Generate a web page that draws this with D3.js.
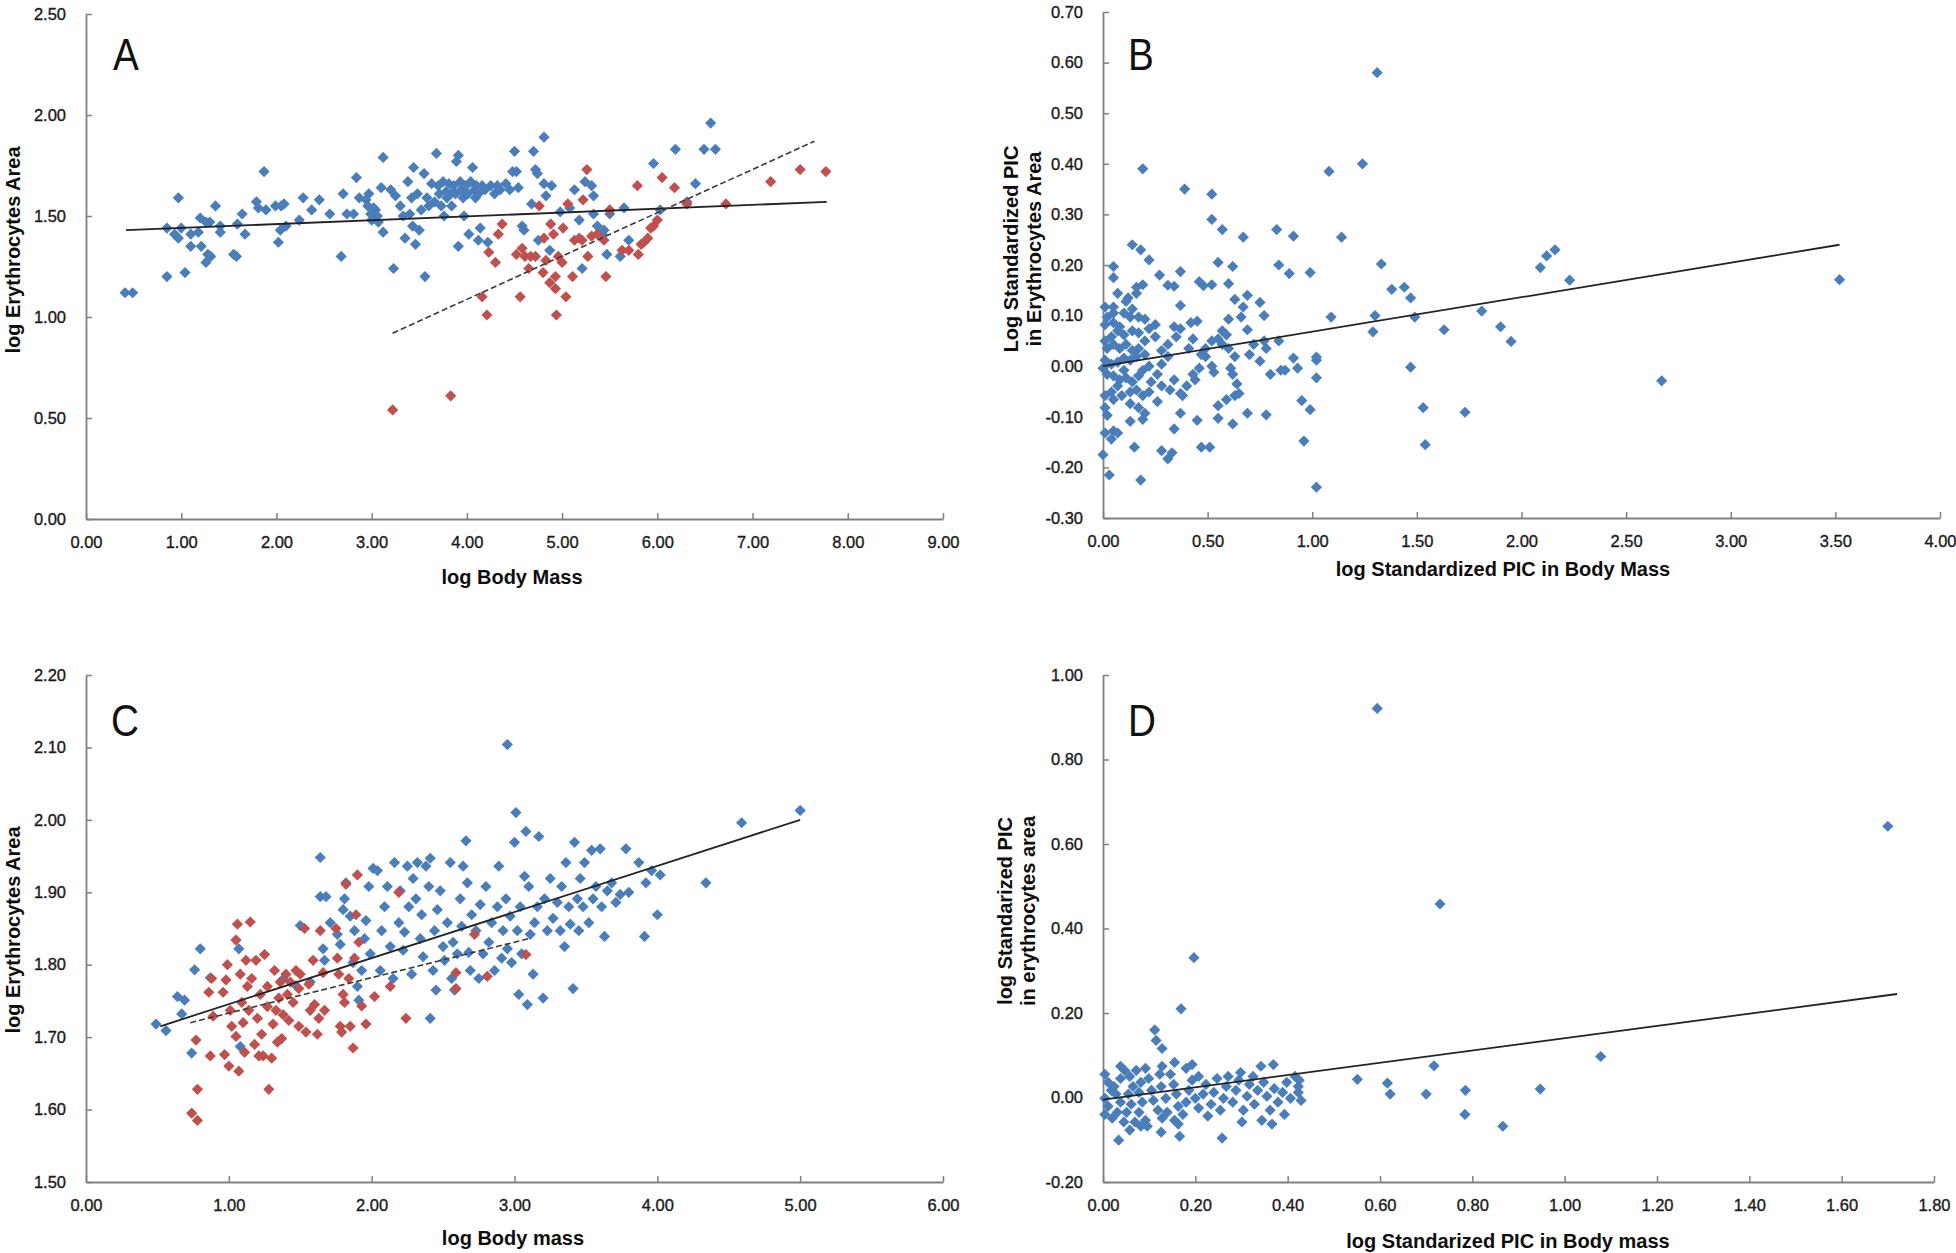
<!DOCTYPE html>
<html>
<head>
<meta charset="utf-8">
<script src="https://cdn.jsdelivr.net/npm/d3@7/dist/d3.min.js"></script>
<style>
  html, body { margin: 0; padding: 0; background: #fff; }
  svg { display: block; }
  .tick text { font-family: "Liberation Sans", Arial, sans-serif; font-size: 16.5px; fill: #1a1a1a; stroke: #1a1a1a; stroke-width: 0.35px; }
  .ttl { font-family: "Liberation Sans", Arial, sans-serif; font-weight: bold; font-size: 20px; fill: #0d0d0d; }
  .letter { font-family: "Liberation Sans", Arial, sans-serif; font-size: 45px; fill: #111; }
</style>
</head>
<body>
<svg id="chart" width="1956" height="1253"></svg>
<script>
// ---------------- DATA ----------------
// Panel A: log Body Mass vs log Erythrocytes Area
const panelA_xTicks = [0,1,2,3,4,5,6,7,8,9];
const panelA_yTicks = [0,0.5,1,1.5,2,2.5];
const panelA_blue = [
[0.41,1.12],[0.49,1.12],[0.85,1.44],[0.85,1.20],[0.97,1.59],[0.93,1.41],[1.0,1.44],[1.04,1.22],[0.97,1.39],[1.10,1.41],
[1.10,1.35],[1.2,1.49],[1.21,1.35],[1.18,1.42],[1.26,1.47],[1.28,1.31],[1.26,1.27],[1.31,1.30],[1.30,1.47],[1.36,1.55],
[1.41,1.42],[1.41,1.45],[1.55,1.31],[1.58,1.30],[1.59,1.46],[1.64,1.51],[1.67,1.41],[1.79,1.57],[1.81,1.54],[1.87,1.72],
[1.89,1.53],[1.99,1.55],[2.02,1.37],[2.04,1.43],[2.05,1.55],[2.08,1.56],[2.10,1.45],[2.24,1.48],[2.28,1.59],[2.37,1.53],
[2.45,1.58],[2.56,1.51],[2.68,1.30],[2.70,1.61],[2.74,1.51],[2.81,1.51],[2.84,1.69],[2.87,1.59],[2.94,1.58],[2.96,1.55],
[2.97,1.61],[2.99,1.51],[3.0,1.48],[3.02,1.54],[3.04,1.53],[3.06,1.50],[3.07,1.47],[3.10,1.64],[3.12,1.79],[3.12,1.42],
[3.20,1.63],[3.23,1.24],[3.25,1.60],[3.30,1.55],[3.33,1.50],[3.35,1.39],[3.38,1.67],[3.40,1.51],[3.42,1.59],[3.43,1.45],
[3.44,1.74],[3.46,1.36],[3.48,1.61],[3.50,1.43],[3.52,1.53],[3.55,1.71],[3.56,1.20],[3.58,1.59],[3.60,1.55],[3.63,1.66],
[3.66,1.57],[3.68,1.81],[3.70,1.65],[3.71,1.61],[3.73,1.55],[3.75,1.67],[3.76,1.50],[3.78,1.62],[3.79,1.59],[3.81,1.66],
[3.83,1.61],[3.84,1.55],[3.86,1.65],[3.88,1.61],[3.89,1.77],[3.91,1.35],[3.91,1.80],[3.93,1.67],[3.94,1.63],[3.96,1.59],
[3.97,1.50],[3.99,1.65],[4.01,1.61],[4.02,1.41],[4.04,1.67],[4.06,1.74],[4.08,1.63],[4.09,1.59],[4.10,1.65],[4.12,1.61],
[4.16,1.65],[4.19,1.63],[4.12,1.38],[4.14,1.44],[4.22,1.37],[4.25,1.65],[4.29,1.61],[4.32,1.65],[4.35,1.63],[4.41,1.66],
[4.45,1.63],[4.48,1.72],[4.50,1.82],[4.52,1.72],[4.54,1.64],[4.58,1.45],[4.60,1.43],[4.68,1.56],[4.70,1.82],[4.72,1.73],
[4.74,1.71],[4.75,1.38],[4.81,1.89],[4.81,1.66],[4.83,1.60],[4.87,1.33],[4.89,1.65],[4.98,1.52],[5.08,1.54],[5.13,1.63],
[5.18,1.48],[5.21,1.24],[5.24,1.67],[5.31,1.65],[5.33,1.60],[5.33,1.51],[5.37,1.45],[5.42,1.41],[5.44,1.43],[5.47,1.31],
[5.50,1.51],[5.65,1.54],[5.61,1.30],[5.70,1.38],[5.96,1.76],[6.03,1.53],[6.19,1.83],[6.31,1.57],[6.40,1.66],[6.49,1.83],
[6.56,1.96],[6.61,1.83]
];
const panelA_red = [
[3.22,0.54],[3.83,0.61],[4.16,1.10],[4.21,1.01],[4.23,1.32],[4.30,1.27],[4.33,1.41],[4.37,1.46],[4.52,1.31],[4.56,1.10],
[4.58,1.34],[4.61,1.30],[4.65,1.24],[4.67,1.30],[4.72,1.30],[4.76,1.55],[4.80,1.22],[4.81,1.39],[4.83,1.28],[4.87,1.17],
[4.88,1.46],[4.91,1.41],[4.93,1.20],[4.93,1.14],[4.94,1.01],[4.96,1.30],[5.00,1.27],[5.01,1.44],[5.04,1.10],[5.06,1.56],
[5.11,1.20],[5.13,1.38],[5.18,1.39],[5.21,1.38],[5.22,1.58],[5.26,1.73],[5.27,1.30],[5.31,1.40],[5.37,1.41],[5.44,1.38],
[5.46,1.20],[5.50,1.53],[5.63,1.33],[5.70,1.33],[5.79,1.65],[5.80,1.31],[5.83,1.36],[5.86,1.37],[5.90,1.39],[5.93,1.44],
[5.96,1.45],[6.00,1.48],[6.05,1.69],[6.18,1.64],[6.31,1.56],[6.72,1.56],[7.19,1.67],[7.50,1.73],[7.77,1.72]
];
const panelA_fitAll = [[0.42,1.43],[7.78,1.57]];
const panelA_fitRed = [[3.22,0.92],[7.65,1.87]];

// Panel B: log Standardized PIC in Body Mass vs log Standardized PIC in Erythrocytes Area
const panelB_xTicks = [0,0.5,1,1.5,2,2.5,3,3.5,4];
const panelB_yTicks = [-0.3,-0.2,-0.1,0,0.1,0.2,0.3,0.4,0.5,0.6,0.7];
const panelB_points = [
[1.31,0.58],[0.19,0.39],[1.24,0.40],[1.08,0.385],[0.39,0.35],[0.52,0.34],[0.52,0.29],[0.57,0.27],[0.83,0.27],[0.67,0.255],
[0.91,0.257],[1.14,0.255],[0.14,0.24],[0.18,0.23],[0.22,0.21],[0.05,0.197],[0.05,0.175],[0.27,0.18],[0.37,0.187],[0.55,0.205],
[0.62,0.197],[0.84,0.20],[0.89,0.183],[0.99,0.185],[1.33,0.202],[2.09,0.195],[2.12,0.218],[2.16,0.23],[2.23,0.17],[3.52,0.171],
[0.31,0.16],[0.34,0.158],[0.46,0.167],[0.48,0.159],[0.52,0.161],[0.60,0.163],[0.16,0.156],[0.19,0.161],[1.38,0.152],[1.44,0.156],
[1.47,0.135],[1.30,0.10],[1.29,0.068],[1.49,0.097],[1.63,0.072],[1.81,0.109],[1.90,0.078],[1.95,0.049],[1.09,0.097],[1.02,0.018],
[1.02,0.012],[1.02,-0.023],[1.47,-0.002],[2.67,-0.029],[1.53,-0.082],[1.73,-0.091],[1.54,-0.155],[0.95,-0.068],[0.99,-0.086],[0.96,-0.148],
[1.02,-0.239],[0.03,-0.215],[0.00,-0.175],[0.18,-0.225],[0.28,-0.167],[0.31,-0.183],[0.33,-0.171],[0.47,-0.16],[0.51,-0.16],[0.15,-0.16],
[0.01,-0.132],[0.04,-0.144],[0.05,-0.128],[0.07,-0.132],[0.13,-0.109],[0.19,-0.105],[0.34,-0.124],[0.37,-0.093],[0.45,-0.107],[0.55,-0.103],
[0.62,-0.114],[0.69,-0.093],[0.78,-0.096],[0.17,-0.082],[0.20,-0.093],[0.55,-0.078],[0.59,-0.066],[0.63,-0.058],[0.65,-0.054],
[0.63,0.132],[0.69,0.14],[0.75,0.126],[0.77,0.10],[0.67,0.117],[0.66,0.097],[0.60,0.093],[0.69,0.072],[0.77,0.05],[0.78,0.035],
[0.72,0.043],[0.70,0.023],[0.75,0.01],[0.80,-0.016],[0.85,-0.008],[0.87,-0.008],[0.91,0.016],[0.93,-0.004],[0.84,0.05],[0.57,0.07],
[0.59,0.062],[0.55,0.054],[0.52,0.05],[0.57,0.043],[0.60,0.035],[0.63,0.019],[0.61,-0.004],[0.64,-0.035],[0.62,-0.016],[0.49,0.019],
[0.46,-0.004],[0.43,-0.016],[0.44,-0.027],[0.40,-0.039],[0.37,-0.054],[0.38,-0.058],[0.42,0.086],[0.45,0.089],[0.37,0.074],[0.34,0.078],
[0.37,0.12],[0.35,0.058],[0.31,0.043],[0.28,0.031],[0.31,0.019],[0.28,0.004],[0.26,-0.016],[0.23,-0.031],[0.22,-0.051],[0.26,-0.07],
[0.28,-0.039],[0.32,-0.047],[0.34,-0.027],[0.49,0.035],[0.47,0.023],[0.52,0.0],[0.53,-0.012],[0.41,0.035],[0.43,0.054],[0.22,0.074],
[0.20,0.093],[0.17,0.097],[0.14,0.113],[0.11,0.128],[0.12,0.135],[0.25,0.082],[0.25,0.058],[0.20,0.05],[0.17,0.066],[0.14,0.07],
[0.10,0.062],[0.07,0.07],[0.04,0.058],[0.01,0.05],[0.02,0.035],[0.05,0.043],[0.08,0.035],[0.11,0.043],[0.14,0.031],[0.17,0.035],
[0.20,0.023],[0.16,0.019],[0.13,0.012],[0.10,0.016],[0.07,0.008],[0.04,0.004],[0.01,0.012],[0.00,-0.004],[0.02,-0.016],[0.05,-0.019],
[0.08,-0.027],[0.11,-0.023],[0.14,-0.031],[0.17,-0.019],[0.19,-0.008],[0.22,0.0],[0.10,-0.008],[0.07,-0.039],[0.04,-0.051],[0.01,-0.058],
[0.05,-0.066],[0.09,-0.058],[0.13,-0.051],[0.16,-0.047],[0.19,-0.058],[0.13,-0.074],[0.01,-0.082],[0.02,-0.097],[0.01,0.117],[0.02,0.097],
[0.05,0.105],[0.01,0.082],[0.05,0.086],[0.08,0.078],[0.05,0.117],[0.10,0.105],[0.13,0.097],[0.07,0.144],[0.16,0.144]
];
const panelB_fit = [[0.0,0.0],[3.52,0.24]];

// Panel C: log Body mass vs log Erythrocytes Area
const panelC_xTicks = [0,1,2,3,4,5,6];
const panelC_yTicks = [1.5,1.6,1.7,1.8,1.9,2.0,2.1,2.2];
const panelC_blue = [
[0.49,1.718],[0.56,1.709],[0.64,1.756],[0.69,1.751],[0.67,1.732],[0.74,1.678],[0.76,1.793],[0.80,1.822],[0.87,1.782],[1.07,1.822],
[1.08,1.687],[1.38,1.780],[1.47,1.771],[1.50,1.854],[1.57,1.776],[1.64,1.948],[1.64,1.894],[1.68,1.894],[1.66,1.822],[1.67,1.806],
[1.71,1.858],[1.76,1.842],[1.78,1.828],[1.80,1.876],[1.81,1.891],[1.82,1.913],[1.85,1.867],[1.87,1.803],[1.88,1.847],[1.90,1.770],
[1.91,1.751],[1.93,1.792],[1.95,1.836],[1.96,1.861],[1.98,1.908],[1.99,1.815],[2.01,1.933],[2.04,1.930],[2.06,1.792],[2.07,1.847],
[2.09,1.880],[2.11,1.908],[2.13,1.825],[2.15,1.781],[2.16,1.941],[2.19,1.858],[2.20,1.902],[2.22,1.820],[2.23,1.845],[2.25,1.936],
[2.26,1.880],[2.28,1.787],[2.29,1.919],[2.31,1.891],[2.32,1.941],[2.34,1.836],[2.35,1.869],[2.36,1.811],[2.38,1.936],[2.40,1.908],
[2.41,1.947],[2.43,1.792],[2.44,1.847],[2.45,1.765],[2.41,1.726],[2.46,1.876],[2.48,1.902],[2.50,1.825],[2.51,1.806],[2.53,1.858],
[2.55,1.941],[2.56,1.781],[2.57,1.831],[2.58,1.765],[2.60,1.815],[2.62,1.891],[2.63,1.853],[2.64,1.936],[2.66,1.971],[2.67,1.913],
[2.68,1.817],[2.69,1.792],[2.70,1.869],[2.73,1.847],[2.75,1.781],[2.76,1.883],[2.78,1.815],[2.80,1.908],[2.82,1.831],[2.84,1.858],
[2.86,1.792],[2.88,1.880],[2.89,1.936],[2.91,1.809],[2.92,1.847],[2.94,1.891],[2.95,1.822],[2.95,2.104],[2.97,1.867],[2.98,1.803],
[3.00,1.969],[3.01,2.010],[3.02,1.847],[3.03,1.759],[3.04,1.880],[3.05,1.815],[3.07,1.922],[3.08,1.984],[3.09,1.745],[3.10,1.908],
[3.11,1.842],[3.13,1.787],[3.14,1.858],[3.16,1.880],[3.17,1.977],[3.20,1.754],[3.21,1.891],[3.23,1.847],[3.25,1.919],[3.27,1.864],
[3.30,1.886],[3.32,1.847],[3.33,1.908],[3.35,1.825],[3.36,1.941],[3.38,1.880],[3.39,1.856],[3.41,1.767],[3.42,1.969],[3.44,1.891],
[3.45,1.847],[3.46,1.919],[3.48,1.880],[3.49,1.941],[3.52,1.858],[3.54,1.958],[3.55,1.891],[3.57,1.908],[3.60,1.960],[3.61,1.880],
[3.63,1.839],[3.65,1.902],[3.68,1.913],[3.71,1.886],[3.74,1.897],[3.78,1.960],[3.80,1.900],[3.87,1.941],[3.91,1.839],[3.92,1.913],
[3.96,1.930],[4.00,1.869],[4.02,1.924],[4.34,1.913],[4.59,1.996],[5.00,2.013]
];
const panelC_red = [
[0.74,1.595],[0.78,1.585],[0.78,1.628],[0.77,1.696],[0.87,1.674],[0.89,1.729],[0.86,1.762],[0.88,1.781],[0.96,1.762],[0.98,1.779],
[0.97,1.676],[0.99,1.800],[1.00,1.660],[1.01,1.737],[1.02,1.715],[1.05,1.701],[1.05,1.834],[1.06,1.856],[1.07,1.653],[1.08,1.787],
[1.09,1.748],[1.10,1.720],[1.11,1.679],[1.12,1.806],[1.13,1.770],[1.14,1.737],[1.15,1.859],[1.16,1.781],[1.18,1.690],[1.19,1.806],
[1.20,1.726],[1.21,1.674],[1.22,1.759],[1.23,1.704],[1.24,1.674],[1.25,1.814],[1.27,1.770],[1.27,1.742],[1.28,1.628],[1.30,1.671],
[1.31,1.718],[1.32,1.792],[1.33,1.737],[1.34,1.693],[1.35,1.754],[1.36,1.776],[1.37,1.698],[1.38,1.731],[1.40,1.787],[1.41,1.759],
[1.42,1.723],[1.43,1.776],[1.45,1.748],[1.47,1.792],[1.49,1.767],[1.49,1.715],[1.50,1.787],[1.53,1.850],[1.54,1.707],[1.56,1.773],
[1.57,1.737],[1.59,1.806],[1.60,1.745],[1.62,1.704],[1.63,1.726],[1.64,1.847],[1.66,1.789],[1.67,1.737],[1.75,1.850],[1.76,1.809],
[1.77,1.787],[1.78,1.715],[1.79,1.707],[1.80,1.759],[1.81,1.748],[1.82,1.911],[1.84,1.781],[1.85,1.715],[1.87,1.685],[1.88,1.809],
[1.89,1.869],[1.90,1.924],[1.91,1.831],[1.93,1.743],[1.96,1.718],[2.02,1.756],[2.13,1.770],[2.19,1.900],[2.24,1.726],[2.59,1.789],
[2.59,1.767],[2.72,1.842],[2.81,1.784],[3.08,1.814]
];
const panelC_fitAll = [[0.52,1.715],[5.0,2.0]];
const panelC_fitRed = [[0.73,1.72],[3.10,1.836]];

// Panel D: log Standarized PIC in Body mass vs log Standarized PIC in erythrocytes area
const panelD_xTicks = [0,0.2,0.4,0.6,0.8,1.0,1.2,1.4,1.6,1.8];
const panelD_yTicks = [-0.2,0,0.2,0.4,0.6,0.8,1.0];
const panelD_points = [
[0.594,0.921],[1.70,0.642],[0.73,0.458],[0.197,0.331],[0.169,0.21],[1.078,0.097],[0.717,0.075],[0.551,0.043],[0.616,0.034],[0.622,0.008],
[0.70,0.008],[0.785,0.017],[0.784,-0.040],[0.866,-0.068],[0.947,0.020],[0.112,0.16],[0.115,0.135],[0.128,0.116],[0.034,-0.101],[0.258,-0.096],
[0.166,-0.092],[0.126,-0.082],
[0.004,0.055],[0.011,0.036],[0.018,0.017],[0.004,-0.002],[0.011,-0.021],[0.004,-0.04],[0.02,-0.049],[0.031,-0.035],[0.038,-0.011],[0.028,0.008],
[0.024,0.026],[0.038,0.045],[0.047,0.064],[0.058,0.05],[0.065,0.026],[0.055,0.008],[0.061,-0.016],[0.051,-0.035],[0.069,-0.058],[0.082,-0.068],
[0.096,-0.068],[0.078,-0.035],[0.085,-0.011],[0.078,0.012],[0.082,0.036],[0.072,0.064],[0.092,0.069],[0.099,0.045],[0.105,0.017],[0.109,-0.007],
[0.119,-0.03],[0.128,-0.049],[0.139,-0.035],[0.136,-0.002],[0.126,0.026],[0.123,0.055],[0.128,0.074],[0.146,0.055],[0.153,0.031],[0.159,0.008],
[0.163,-0.021],[0.155,-0.054],[0.163,-0.063],[0.173,-0.04],[0.18,-0.011],[0.186,0.017],[0.18,0.069],[0.155,0.083],[0.193,0.041],[0.2,-0.002],
[0.207,-0.025],[0.217,0.008],[0.223,0.031],[0.227,-0.044],[0.234,-0.016],[0.24,0.012],[0.247,0.045],[0.254,-0.03],[0.261,-0.002],[0.267,0.026],
[0.271,0.05],[0.281,-0.011],[0.288,0.017],[0.294,0.041],[0.298,0.059],[0.301,-0.058],[0.304,-0.03],[0.312,0.003],[0.317,0.031],[0.325,0.05],
[0.328,-0.016],[0.335,0.017],[0.342,0.074],[0.344,-0.054],[0.348,0.036],[0.355,0.003],[0.362,-0.03],[0.366,-0.063],[0.369,0.078],[0.371,0.021],
[0.379,-0.011],[0.389,0.012],[0.393,-0.04],[0.398,0.036],[0.406,-0.002],[0.416,0.05],[0.423,0.026],[0.425,0.041],[0.429,-0.007],[0.423,0.012],
[0.045,-0.058],[0.092,-0.054],[0.058,-0.077],[0.207,0.05],[0.193,0.078],[0.038,0.074]
];
const panelD_fit = [[0.0,-0.005],[1.72,0.245]];

const BLUE = "#4a7ebb";
const RED = "#c0504d";

// ---------------- DRAW ----------------
const svg = d3.select("#chart");
svg.append("rect").attr("width",1956).attr("height",1253).attr("fill","#fff");

const diamond = "M0,-5.6L5.6,0L0,5.6L-5.6,0Z";
const fmt = d => d.toFixed(2);

function panel(o) {
  const x = d3.scaleLinear().domain(o.xDomain).range([o.x0, o.x1]);
  const y = d3.scaleLinear().domain(o.yDomain).range([o.y0, o.y1]);
  const g = svg.append("g");

  const ax = g.append("g").attr("transform", `translate(0,${o.y0})`)
    .call(d3.axisBottom(x).tickValues(o.xTicks).tickFormat(fmt).tickSizeInner(-6).tickSizeOuter(0).tickPadding(17));
  const ay = g.append("g").attr("transform", `translate(${o.x0},0)`)
    .call(d3.axisLeft(y).tickValues(o.yTicks).tickFormat(fmt).tickSizeInner(-6).tickSizeOuter(0).tickPadding(20));
  [ax, ay].forEach(a => {
    a.attr("font-family", null).attr("font-size", null);
    a.select(".domain").attr("stroke", "#808080").attr("stroke-width", 1.8);
    a.selectAll(".tick line").attr("stroke", "#808080").attr("stroke-width", 1.5);
  });

  o.series.forEach(s => {
    g.append("g").selectAll("path").data(s.data).join("path")
      .attr("d", diamond)
      .attr("transform", d => `translate(${x(d[0])},${y(d[1])})`)
      .attr("fill", s.color);
  });

  const line = d3.line().x(d => x(d[0])).y(d => y(d[1]));
  o.fits.forEach(f => {
    g.append("path").attr("d", line(f.data)).attr("fill", "none")
      .attr("stroke", f.dashed ? "#3a3a3a" : "#222").attr("stroke-width", f.dashed ? 1.6 : 1.8)
      .attr("stroke-dasharray", f.dashed ? "6,3" : null);
  });

  g.append("text").attr("class", "letter")
    .attr("transform", `translate(${o.letterX},${o.letterY}) scale(0.86,1)`).text(o.letter);

  g.append("text").attr("class", "ttl").attr("text-anchor", "middle")
    .attr("x", o.xTitlePos[0]).attr("y", o.xTitlePos[1]).attr("dy", "0.35em").text(o.xTitle);

  const yt = g.append("text").attr("class", "ttl").attr("text-anchor", "middle")
    .attr("transform", `translate(${o.yTitlePos[0]},${o.yTitlePos[1]}) rotate(-90)`);
  o.yTitle.forEach((t, i) => {
    yt.append("tspan").attr("x", 0).attr("y", i * 23 - (o.yTitle.length - 1) * 11.5).attr("dy", "0.35em").text(t);
  });
}

panel({
  x0: 86, x1: 943, y0: 519, y1: 14,
  xDomain: [0, 9], yDomain: [0, 2.5], xTicks: panelA_xTicks, yTicks: panelA_yTicks,
  series: [{data: panelA_blue, color: BLUE}, {data: panelA_red, color: RED}],
  fits: [{data: panelA_fitAll}, {data: panelA_fitRed, dashed: true}],
  letter: "A", letterX: 113, letterY: 70,
  xTitle: "log Body Mass", xTitlePos: [512, 577],
  yTitle: ["log Erythrocytes  Area"], yTitlePos: [13, 250]
});

panel({
  x0: 1103, x1: 1940, y0: 518, y1: 12,
  xDomain: [0, 4], yDomain: [-0.3, 0.7], xTicks: panelB_xTicks, yTicks: panelB_yTicks,
  series: [{data: panelB_points, color: BLUE}],
  fits: [{data: panelB_fit}],
  letter: "B", letterX: 1128, letterY: 70,
  xTitle: "log Standardized PIC in Body Mass", xTitlePos: [1503, 569],
  yTitle: ["Log Standardized PIC", "in Erythrocytes  Area"], yTitlePos: [1022, 249]
});

panel({
  x0: 86, x1: 943, y0: 1182, y1: 675,
  xDomain: [0, 6], yDomain: [1.5, 2.2], xTicks: panelC_xTicks, yTicks: panelC_yTicks,
  series: [{data: panelC_blue, color: BLUE}, {data: panelC_red, color: RED}],
  fits: [{data: panelC_fitAll}, {data: panelC_fitRed, dashed: true}],
  letter: "C", letterX: 111, letterY: 736,
  xTitle: "log Body mass", xTitlePos: [513, 1238],
  yTitle: ["log Erythrocytes Area"], yTitlePos: [13, 930]
});

panel({
  x0: 1103, x1: 1934, y0: 1182, y1: 675,
  xDomain: [0, 1.8], yDomain: [-0.2, 1.0], xTicks: panelD_xTicks, yTicks: panelD_yTicks,
  series: [{data: panelD_points, color: BLUE}],
  fits: [{data: panelD_fit}],
  letter: "D", letterX: 1128, letterY: 736,
  xTitle: "log Standarized PIC in Body mass", xTitlePos: [1508, 1241],
  yTitle: ["log Standarized PIC", "in erythrocytes area"], yTitlePos: [1016, 911]
});
</script>
</body>
</html>
